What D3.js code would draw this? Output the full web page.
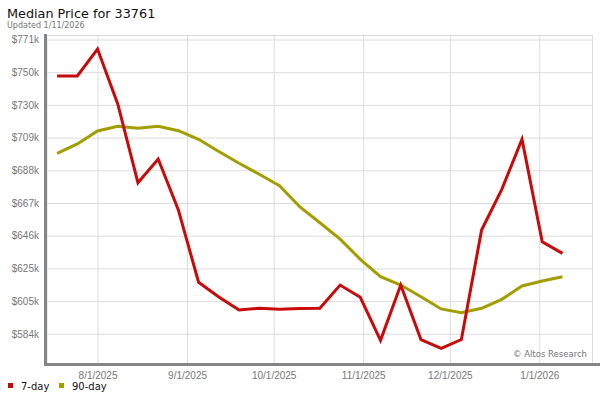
<!DOCTYPE html>
<html>
<head>
<meta charset="utf-8">
<script src="https://cdn.jsdelivr.net/npm/d3@7"></script>
<style>
  body { margin: 0; background: #fff; }
  svg { font-family: "DejaVu Sans", Verdana, sans-serif; }
  .grid line { stroke: #dcdcdc; stroke-width: 1; }
  .grid .domain { display: none; }
  .tick text { fill: #777; font-size: 10px; }
</style>
</head>
<body>
<div class="app"></div>
<script>
'use strict'

// weekly dates
var dates = ["2025-07-18", "2025-07-25", "2025-08-01", "2025-08-08", "2025-08-15", "2025-08-22",
  "2025-08-29", "2025-09-05", "2025-09-12", "2025-09-19", "2025-09-26", "2025-10-03",
  "2025-10-10", "2025-10-17", "2025-10-24", "2025-10-31", "2025-11-07", "2025-11-14",
  "2025-11-21", "2025-11-28", "2025-12-05", "2025-12-12", "2025-12-19", "2025-12-26",
  "2026-01-02", "2026-01-09"];

var sevenDay = [748000, 748000, 765200, 730200, 680000, 695100, 662600, 616600, 607200, 598900,
  600000, 599400, 599900, 600000, 614800, 607000, 579600, 614800, 580100, 574500,
  580100, 649900, 675800, 707700, 642400, 635000];

var ninetyDay = [698700, 704700, 712950, 715950, 714700, 715950, 713150, 707700, 699900, 692400,
  685400, 678100, 664700, 654500, 644100, 631200, 620100, 614800, 607400, 599600,
  597200, 600000, 605700, 614200, 617400, 620100];

var yTicks = [583750, 604583, 625417, 646250, 667083, 687917, 708750, 729583, 750417, 771250];
var xTicks = ["2025-08-01", "2025-09-01", "2025-10-01", "2025-11-01", "2025-12-01", "2026-01-01"];

var seriesNames = ["7-day", "90-day"];
var colors = ["#c80a0a", "#a39e00"];

var margin = {top: 35, right: 7, bottom: 37, left: 47};
var width = 600 - margin.left - margin.right;
var height = 328;

var parse = d3.timeParse("%Y-%m-%d");

var x = d3.scaleTime()
  .domain([new Date(2025, 6, 14, 12), new Date(2026, 0, 19, 14)])
  .range([0, width]);

var y = d3.scaleLinear()
  .domain([565150, 774120])
  .range([height, 0]);

var svg = d3.select(".app").append("svg")
  .attr("width", 600)
  .attr("height", 400);

// title
svg.append("text")
  .attr("x", 7).attr("y", 18)
  .style("font-size", "12.8px")
  .attr("fill", "#111")
  .text("Median Price for 33761");

svg.append("text")
  .attr("x", 7).attr("y", 28)
  .style("font-size", "8px")
  .attr("fill", "#777")
  .text("Updated 1/11/2026");

var g = svg.append("g")
  .attr("transform", "translate(" + margin.left + "," + margin.top + ")");

// frame
g.append("rect")
  .attr("x", 0).attr("y", 0.5)
  .attr("width", width - 0.5).attr("height", height)
  .attr("fill", "none")
  .attr("stroke", "#dcdcdc");

// horizontal grid + y labels
g.append("g")
  .attr("class", "grid")
  .call(d3.axisLeft(y)
    .tickValues(yTicks)
    .tickSize(-width)
    .tickPadding(8)
    .tickFormat(function(d) { return "$" + Math.round(d / 1000) + "k"; }));

// vertical grid + x labels
g.append("g")
  .attr("class", "grid")
  .attr("transform", "translate(0," + height + ")")
  .call(d3.axisBottom(x)
    .tickValues(xTicks.map(parse))
    .tickSize(-height)
    .tickPadding(9)
    .tickFormat(d3.timeFormat("%-m/%-d/%Y")));

// axis lines
g.append("line")
  .attr("x1", -1.5).attr("x2", -1.5)
  .attr("y1", -1).attr("y2", height + 3)
  .attr("stroke", "#858585").attr("stroke-width", 3);

g.append("line")
  .attr("x1", -3).attr("x2", 600 - margin.left)
  .attr("y1", height + 1.5).attr("y2", height + 1.5)
  .attr("stroke", "#858585").attr("stroke-width", 3);

g.append("text")
  .attr("x", 540).attr("y", height - 6)
  .attr("text-anchor", "end")
  .style("font-size", "8.5px")
  .attr("fill", "#777")
  .text("© Altos Research");

var line = d3.line()
  .x(function(d) { return x(d.date); })
  .y(function(d) { return y(d.value); });

[ninetyDay, sevenDay].forEach(function(values, k) {
  var pts = values.map(function(v, i) { return {date: parse(dates[i]), value: v}; });
  g.append("path")
    .attr("d", line(pts))
    .attr("fill", "none")
    .attr("stroke", k === 0 ? colors[1] : colors[0])
    .attr("stroke-width", 3)
    .attr("stroke-linejoin", "miter");
});

// legend
var legend = svg.append("g").attr("transform", "translate(8,383)");
var legendX = [0, 51];
seriesNames.forEach(function(name, i) {
  legend.append("rect")
    .attr("x", legendX[i]).attr("y", 0)
    .attr("width", 5).attr("height", 5)
    .attr("fill", colors[i]);
  legend.append("text")
    .attr("x", legendX[i] + 13).attr("y", 7)
    .style("font-size", "10px")
    .attr("fill", "#111")
    .text(name);
});
</script>
</body>
</html>
